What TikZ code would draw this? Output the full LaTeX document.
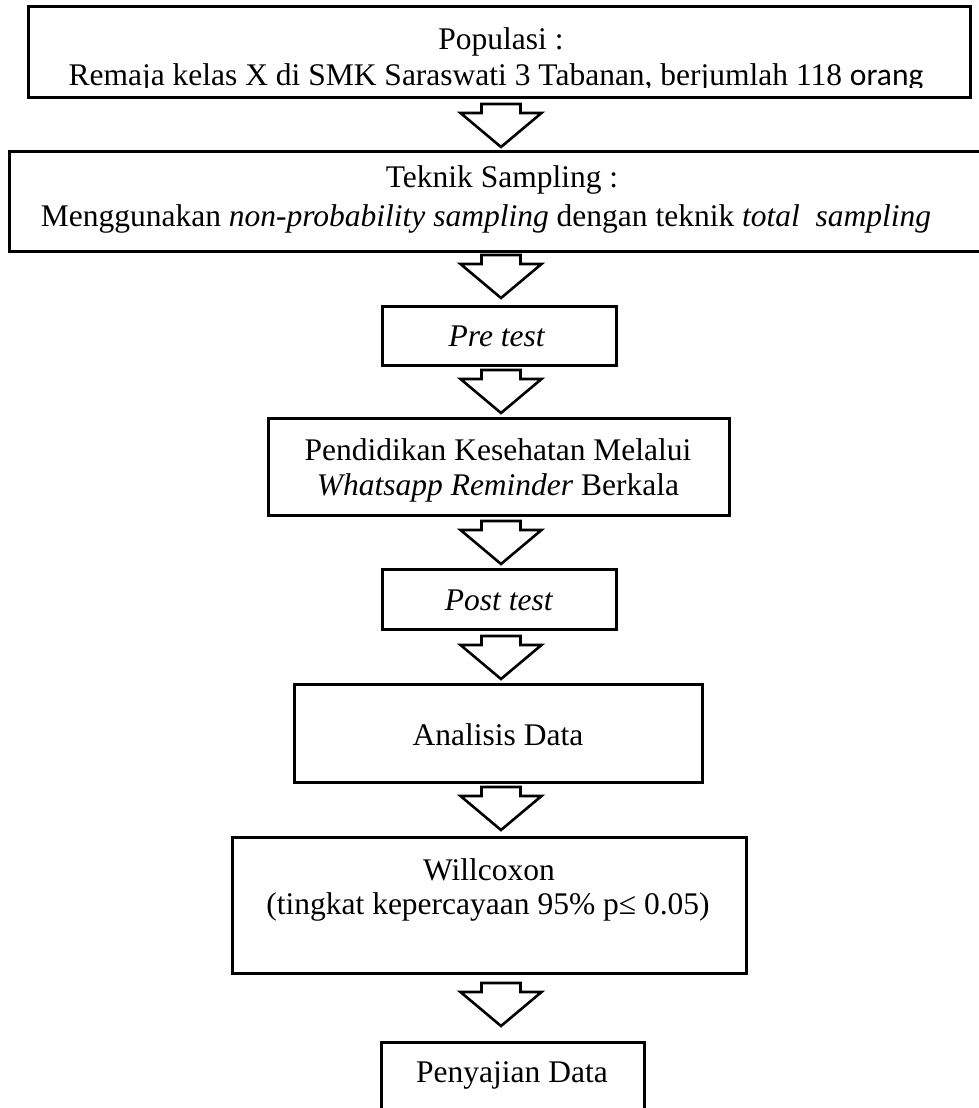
\documentclass[tikz,border=0pt]{standalone}
\usepackage{fontspec}
\setmainfont{Liberation Serif}
\newfontfamily\carfont{Carlito}
\usetikzlibrary{calc}
\tikzset{
  box/.style={draw, line width=3pt, inner sep=0pt, fill=none},
  edge/.style={line width=3pt, line join=miter},
  txt/.style={anchor=base, inner sep=0pt, font=\fontsize{31.5}{36}\selectfont},
  barrow/.pic={\draw[line width=2.6pt, line join=miter, fill=white]
     (-19.5,0) -- (19.5,0) -- (19.5,9) -- (40.5,9) -- (0,43) -- (-40.5,9) -- (-19.5,9) -- cycle;}
}
\begin{document}
\begin{tikzpicture}[x=1pt,y=-1pt]
\useasboundingbox (0,0) rectangle (979,1108);
% boxes
\node[box, minimum width=942pt, minimum height=90pt] (b1) at (499,52) {};
\coordinate (b2ne) at (979,151);
\coordinate (b2nw) at (9,151);
\coordinate (b2sw) at (9,251);
\coordinate (b2se) at (979,251);
\draw[edge] (b2ne) -- (b2nw) -- (b2sw) -- (b2se);
\node[box, minimum width=234pt, minimum height=59pt] (b3) at (499,335.5) {};
\node[box, minimum width=461pt, minimum height=97pt] (b4) at (498.5,466.5) {};
\node[box, minimum width=234pt, minimum height=60pt] (b5) at (499,599) {};
\node[box, minimum width=408pt, minimum height=98pt] (b6) at (498,733) {};
\node[box, minimum width=514pt, minimum height=136pt] (b7) at (489,905) {};
\coordinate (b8sw) at (381,1108);
\coordinate (b8nw) at (381,1042);
\coordinate (b8ne) at (644,1042);
\coordinate (b8se) at (644,1108);
\draw[edge] (b8sw) -- (b8nw) -- (b8ne) -- (b8se);
% texts
\node[txt] (t1a) at (501,50) {Populasi :};
\begin{scope}
\clip (0,0) rectangle (979,87);
\node[txt] (t1b) at (496,85) {Remaja kelas X di SMK Saraswati 3 Tabanan, berjumlah 118 {\carfont orang}};
\end{scope}
\node[txt] (t2a) at (502,187) {Teknik Sampling :};
\node[txt] (t2b) at (486,226) {Menggunakan \textit{non-probability sampling} dengan teknik \textit{total\ \ sampling}};
\node[txt] (t3) at (497,346) {\textit{Pre test}};
\node[txt] (t4a) at (498,460) {Pendidikan Kesehatan Melalui};
\node[txt] (t4b) at (498,495) {\textit{Whatsapp Reminder} Berkala};
\node[txt] (t5) at (499,610) {\textit{Post test}};
\node[txt] (t6) at (498,745) {Analisis Data};
\node[txt] (t7a) at (489,880) {Willcoxon};
\node[txt] (t7b) at (488,914) {(tingkat kepercayaan 95\% p≤ 0.05)};
\node[txt] (t8) at (512,1082) {Penyajian Data};
% block arrows
\coordinate (a1) at (501,104);
\coordinate (a2) at (501,255);
\coordinate (a3) at (501,370);
\coordinate (a4) at (501,521);
\coordinate (a5) at (501,636);
\coordinate (a6) at (501,787);
\coordinate (a7) at (501,983);
\foreach \a in {a1,a2,a3,a4,a5,a6,a7} { \pic at (\a) {barrow}; }
\end{tikzpicture}
\end{document}
